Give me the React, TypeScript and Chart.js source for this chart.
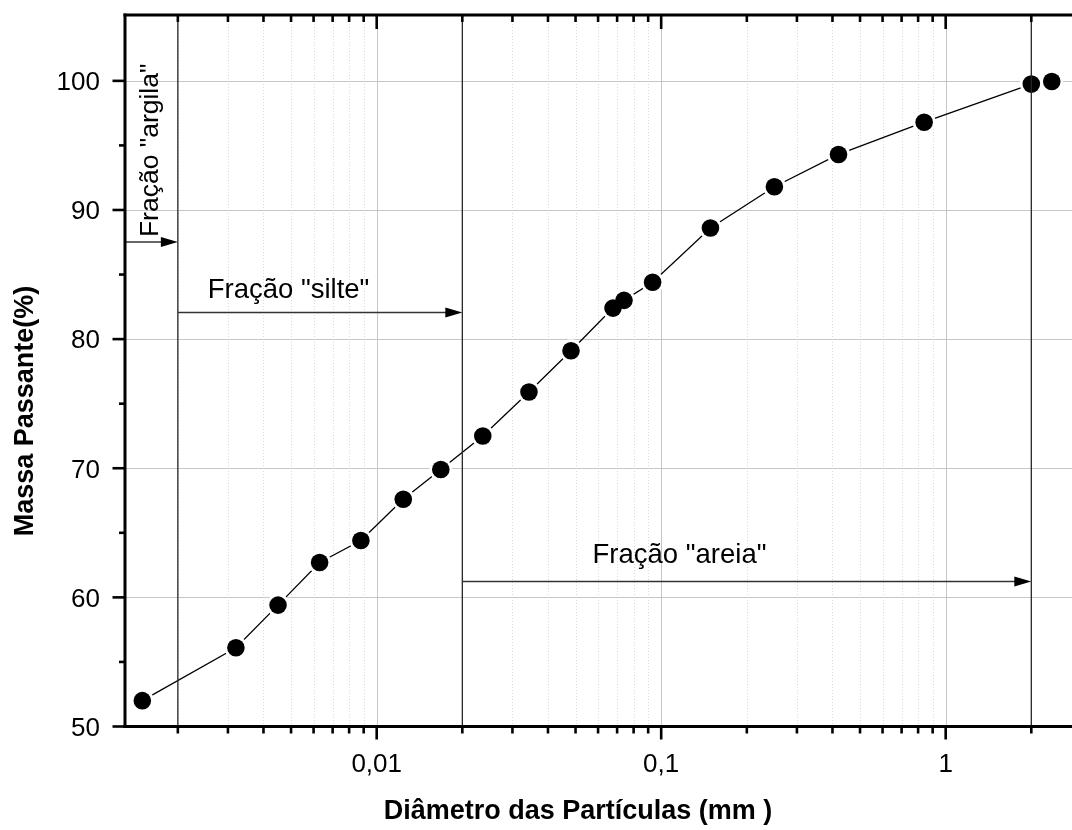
import React, { useEffect, useRef } from "react";
import { Chart, registerables } from "chart.js";

Chart.register(...registerables);

// Particle diameters (mm) and percent passing
const diameters = [0.0015, 0.0032, 0.0045, 0.0063, 0.0088, 0.0124, 0.0168, 0.0236, 0.0343, 0.0482, 0.0677, 0.074, 0.0933, 0.149, 0.25, 0.42, 0.84, 2.0];
const passing = [52.0, 56.1, 59.4, 62.7, 64.4, 67.6, 69.9, 72.5, 75.9, 79.1, 82.4, 83.0, 84.4, 88.6, 91.8, 94.3, 96.8, 99.75];
// Isolated point (not joined by the line)
const extraDiameters = [2.36];
const extraPassing = [99.95];

// Axis ranges and ticks
const xMin = 0.001304;
const xMax = 2.78;
const yMin = 50;
const yMax = 105.1;
const xMajorTicks = [0.01, 0.1, 1];
const xTickLabels = ["0,01", "0,1", "1"];
const xDecades = [0.001, 0.01, 0.1, 1];
const xMinorMultipliers = [2, 3, 4, 5, 6, 7, 8, 9];
const yMajorTicks = [50, 60, 70, 80, 90, 100];
const yTickLabels = ["50", "60", "70", "80", "90", "100"];
const yMinorTicks = [55, 65, 75, 85, 95];

// Soil fraction annotations
const fractionNames = ['Fração "argila"', 'Fração "silte"', 'Fração "areia"'];
const boundaryLines = [0.002, 0.02, 2];
const arrowStarts = [xMin, 0.002, 0.02];
const arrowEnds = [0.002, 0.02, 2];
const arrowLevels = [87.53, 82.07, 61.22];
const labelXs = [0.0017, 0.0049, 0.116];
const labelYs = [87.9, 83.2, 62.66];

const xTitle = "Diâmetro das Partículas (mm )";
const yTitle = "Massa Passante(%)";

const FONT = '"Liberation Sans", Arial, Helvetica, sans-serif';

const minorX: number[] = [];
xDecades.forEach((d) =>
  xMinorMultipliers.forEach((m) => {
    const v = d * m;
    if (v > xMin && v < xMax) minorX.push(v);
  })
);

const drawPlugin = {
  id: "granulometry",
  beforeDatasetsDraw(chart: any) {
    const { ctx, chartArea: a, scales } = chart;
    const x = scales.x;
    const y = scales.y;
    ctx.save();
    ctx.lineWidth = 1;
    ctx.strokeStyle = "#d9d9d9";
    ctx.setLineDash([1, 2]);
    minorX.forEach((v) => {
      const px = Math.round(x.getPixelForValue(v)) + 0.5;
      ctx.beginPath();
      ctx.moveTo(px, a.top);
      ctx.lineTo(px, a.bottom);
      ctx.stroke();
    });
    ctx.setLineDash([]);
    ctx.strokeStyle = "#c6c6c6";
    xMajorTicks.forEach((v) => {
      const px = Math.round(x.getPixelForValue(v)) + 0.5;
      ctx.beginPath();
      ctx.moveTo(px, a.top);
      ctx.lineTo(px, a.bottom);
      ctx.stroke();
    });
    yMajorTicks.forEach((v) => {
      if (v === yMin) return;
      const py = Math.round(y.getPixelForValue(v)) + 0.5;
      ctx.beginPath();
      ctx.moveTo(a.left, py);
      ctx.lineTo(a.right, py);
      ctx.stroke();
    });
    ctx.restore();
  },
  afterDatasetsDraw(chart: any) {
    const { ctx, chartArea: a, scales } = chart;
    const x = scales.x;
    const y = scales.y;
    ctx.save();

    // boundary lines
    ctx.strokeStyle = "#262626";
    ctx.lineWidth = 1.3;
    boundaryLines.forEach((v) => {
      const px = x.getPixelForValue(v);
      ctx.beginPath();
      ctx.moveTo(px, a.top);
      ctx.lineTo(px, a.bottom);
      ctx.stroke();
    });

    // arrows
    arrowLevels.forEach((lv, i) => {
      const py = y.getPixelForValue(lv);
      const x0 = Math.max(x.getPixelForValue(arrowStarts[i]), a.left);
      const x1 = x.getPixelForValue(arrowEnds[i]);
      const headLen = 17;
      const headHalf = 5;
      ctx.strokeStyle = "#333";
      ctx.lineWidth = 1.5;
      ctx.beginPath();
      ctx.moveTo(x0, py);
      ctx.lineTo(x1 - headLen + 2, py);
      ctx.stroke();
      ctx.fillStyle = "#000";
      ctx.beginPath();
      ctx.moveTo(x1, py);
      ctx.lineTo(x1 - headLen, py - headHalf);
      ctx.lineTo(x1 - headLen, py + headHalf);
      ctx.closePath();
      ctx.fill();
    });

    // fraction labels
    ctx.fillStyle = "#000";
    ctx.font = `27.5px ${FONT}`;
    ctx.textBaseline = "alphabetic";
    // argila: rotated
    {
      const px = x.getPixelForValue(labelXs[0]);
      const py = y.getPixelForValue(labelYs[0]);
      ctx.save();
      ctx.translate(px, py);
      ctx.rotate(-Math.PI / 2);
      ctx.textAlign = "left";
      ctx.font = `26.5px ${FONT}`;
      ctx.fillText(fractionNames[0], 0, 0);
      ctx.restore();
    }
    for (let i = 1; i < fractionNames.length; i++) {
      ctx.textAlign = "center";
      ctx.fillText(fractionNames[i], x.getPixelForValue(labelXs[i]), y.getPixelForValue(labelYs[i]));
    }

    // axes frame
    ctx.strokeStyle = "#000";
    ctx.lineWidth = 3;
    ctx.beginPath();
    ctx.moveTo(a.left, a.bottom + 1.5);
    ctx.lineTo(a.left, a.top - 1.5);
    ctx.stroke();
    ctx.beginPath();
    ctx.moveTo(a.left - 1.5, a.top);
    ctx.lineTo(a.right + 2, a.top);
    ctx.stroke();
    ctx.beginPath();
    ctx.moveTo(a.left - 1.5, a.bottom);
    ctx.lineTo(a.right + 2, a.bottom);
    ctx.stroke();

    // ticks
    ctx.lineWidth = 2.6;
    const xTick = (v: number, len: number, topLen: number) => {
      const px = x.getPixelForValue(v);
      ctx.beginPath();
      ctx.moveTo(px, a.bottom);
      ctx.lineTo(px, a.bottom + len);
      ctx.stroke();
      ctx.beginPath();
      ctx.moveTo(px, a.top);
      ctx.lineTo(px, a.top + topLen);
      ctx.stroke();
    };
    minorX.forEach((v) => xTick(v, 7, 7));
    xMajorTicks.forEach((v) => xTick(v, 13, 14));
    const yTick = (v: number, len: number) => {
      const py = y.getPixelForValue(v);
      ctx.beginPath();
      ctx.moveTo(a.left, py);
      ctx.lineTo(a.left - len, py);
      ctx.stroke();
    };
    yMinorTicks.forEach((v) => yTick(v, 6));
    yMajorTicks.forEach((v) => yTick(v, 12.5));

    // tick labels
    ctx.fillStyle = "#000";
    ctx.font = `26px ${FONT}`;
    ctx.textAlign = "center";
    ctx.textBaseline = "alphabetic";
    xMajorTicks.forEach((v, i) => {
      ctx.fillText(xTickLabels[i], x.getPixelForValue(v), a.bottom + 45);
    });
    ctx.textAlign = "right";
    yMajorTicks.forEach((v, i) => {
      ctx.fillText(yTickLabels[i], a.left - 25, y.getPixelForValue(v) + 9.3);
    });

    // axis titles
    ctx.font = `bold 27px ${FONT}`;
    ctx.textAlign = "center";
    ctx.fillText(xTitle, 578, a.bottom + 92);
    ctx.save();
    ctx.translate(33, 411);
    ctx.rotate(-Math.PI / 2);
    ctx.fillText(yTitle, 0, 0);
    ctx.restore();

    ctx.restore();
  },
};

export default function App() {
  const canvasRef = useRef<HTMLCanvasElement | null>(null);

  useEffect(() => {
    const canvas = canvasRef.current;
    if (!canvas) return;
    const lineData = diameters.map((d, i) => ({ x: d, y: passing[i] }));
    const markerData = lineData.concat(extraDiameters.map((d, i) => ({ x: d, y: extraPassing[i] })));
    const chart = new Chart(canvas, {
      type: "scatter",
      data: {
        datasets: [
          {
            label: "markers",
            data: markerData,
            showLine: false,
            pointRadius: 8.8,
            pointBorderWidth: 0,
            pointBackgroundColor: "#000",
            pointBorderColor: "#000",
          },
          {
            label: "gaps",
            data: markerData,
            showLine: false,
            pointRadius: 11.5,
            pointBorderWidth: 0,
            pointBackgroundColor: "#fff",
            pointBorderColor: "#fff",
          },
          {
            label: "curve",
            data: lineData,
            showLine: true,
            borderColor: "#000",
            borderWidth: 1.3,
            pointRadius: 0,
            tension: 0,
          },
        ],
      },
      options: {
        responsive: false,
        animation: false,
        events: [],
        layout: {
          autoPadding: false,
          padding: { left: 125, top: 15, right: 0, bottom: 103.5 },
        },
        plugins: {
          legend: { display: false },
          tooltip: { enabled: false },
          title: { display: false },
        },
        scales: {
          x: { type: "logarithmic", min: xMin, max: xMax, display: false },
          y: { type: "linear", min: yMin, max: yMax, display: false },
        },
      },
      plugins: [drawPlugin],
    });
    return () => chart.destroy();
  }, []);

  return (
    <div style={{ position: "absolute", left: 0, top: 0, width: 1072, height: 830, overflow: "hidden", background: "#fff" }}>
      <canvas ref={canvasRef} width={1072} height={830} style={{ display: "block" }} />
    </div>
  );
}
